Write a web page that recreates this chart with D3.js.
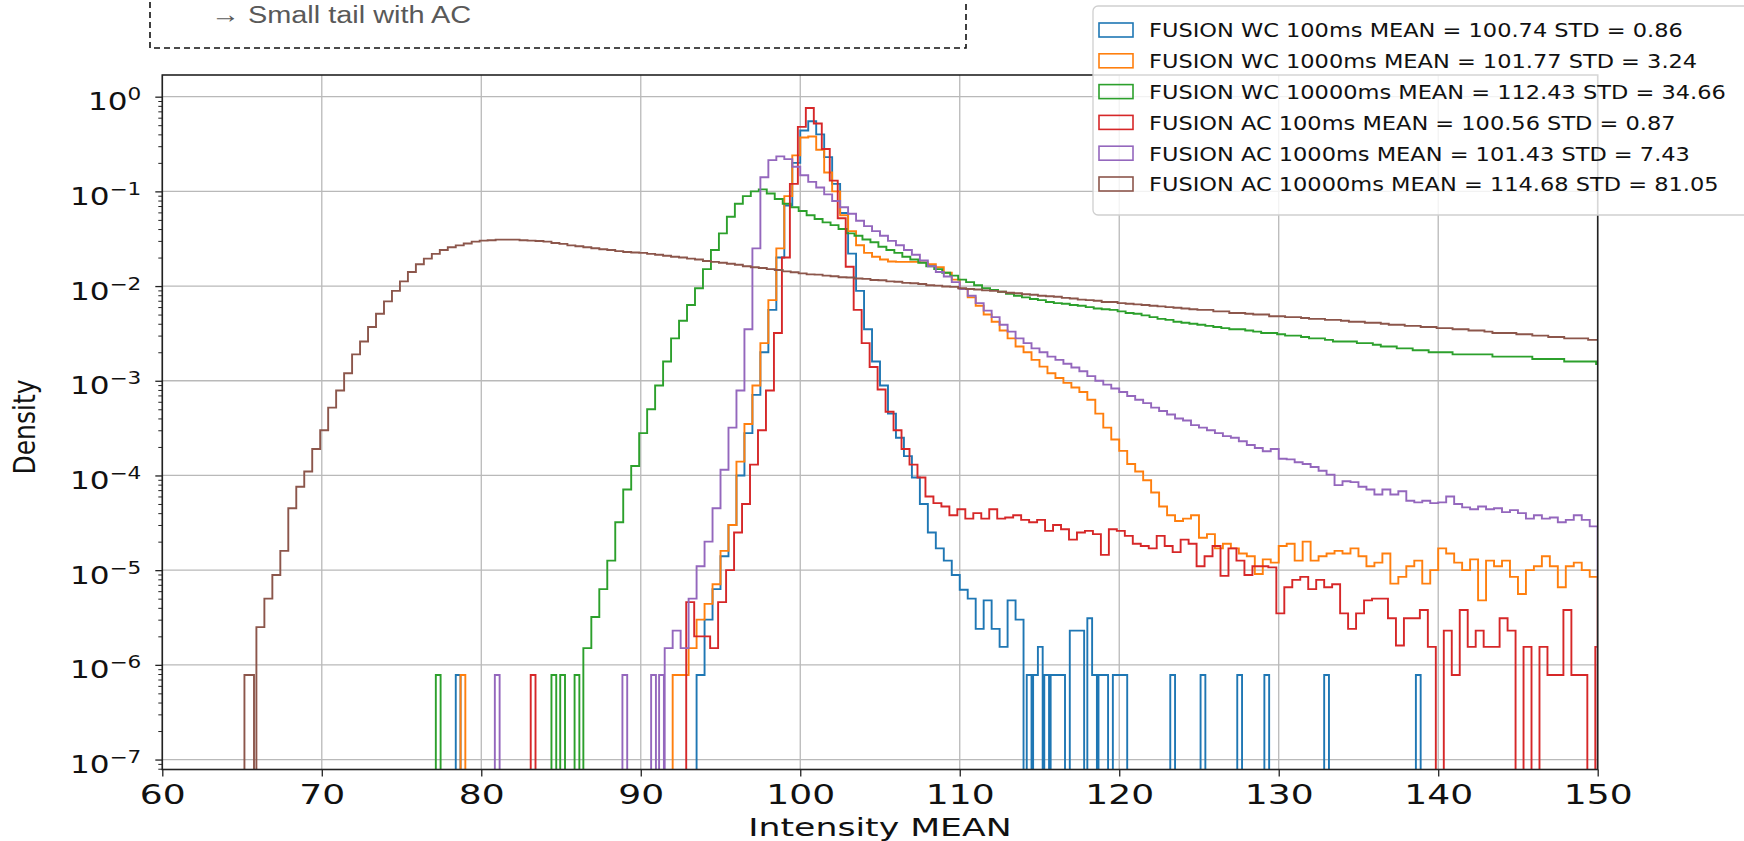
<!DOCTYPE html>
<html><head><meta charset="utf-8">
<script src="https://cdn.jsdelivr.net/npm/d3@7"></script>
<style>body{margin:0;background:#fff}svg{display:block}</style>
</head><body>
<svg id="chart" width="1744" height="841"></svg>
<script>
// ---------- data ----------
const xTicks = [60, 70, 80, 90, 100, 110, 120, 130, 140, 150];
const yTicks = [1e-7, 1e-6, 1e-5, 1e-4, 1e-3, 1e-2, 1e-1, 1];
const yTickExponents = ["\u22127", "\u22126", "\u22125", "\u22124", "\u22123", "\u22122", "\u22121", "0"];
const seriesLabels = [
  "FUSION WC 100ms MEAN = 100.74 STD = 0.86",
  "FUSION WC 1000ms MEAN = 101.77 STD = 3.24",
  "FUSION WC 10000ms MEAN = 112.43 STD = 34.66",
  "FUSION AC 100ms MEAN = 100.56 STD = 0.87",
  "FUSION AC 1000ms MEAN = 101.43 STD = 7.43",
  "FUSION AC 10000ms MEAN = 114.68 STD = 81.05"
];
const seriesColors = ["#1f77b4", "#ff7f0e", "#2ca02c", "#d62728", "#9467bd", "#8c564b"];
const binWidth = 0.5;     // width of the body bins
const spikeWidth = 0.3;   // width of isolated low-count bins
const noteText = "\u2192 Small tail with AC";
const xLabel = "Intensity MEAN";
const yLabel = "Density";

// FUSION WC 100ms
const wc100Start = 93.5;
const wc100Values = [7.8e-7, 3.0e-6, 6.3e-6, 1.4e-5, 3.0e-5, 1.0e-4, 2.8e-4, 7.1e-4, 2.0e-3, 5.6e-3,
  0.020, 0.071, 0.20, 0.44, 0.55, 0.40, 0.23, 0.12, 0.059, 0.022,
  8.9e-3, 3.5e-3, 1.6e-3, 8.9e-4, 4.5e-4, 2.5e-4, 1.6e-4, 9.5e-5, 5.0e-5, 2.5e-5,
  1.7e-5, 1.26e-5, 8.9e-6, 6.2e-6, 5.0e-6, 2.4e-6, 4.8e-6, 2.4e-6, 1.55e-6, 4.8e-6,
  3.0e-6];
const wc100Spikes = [[78.4, 7.8e-7], [114.2, 7.8e-7], [114.6, 7.8e-7], [114.9, 1.55e-6], [115.3, 7.8e-7],
  [115.7, 7.8e-7], [116.0, 7.8e-7], [116.3, 7.8e-7], [116.9, 2.3e-6], [117.2, 2.3e-6], [117.5, 2.3e-6],
  [118.0, 3.1e-6], [118.3, 7.8e-7], [118.7, 7.8e-7], [119.0, 7.8e-7], [119.6, 7.8e-7], [119.9, 7.8e-7],
  [120.2, 7.8e-7], [123.2, 7.8e-7], [125.1, 7.8e-7], [127.4, 7.8e-7], [129.1, 7.8e-7], [132.85, 7.8e-7],
  [138.6, 7.8e-7]];

// FUSION WC 1000ms
const wc1000Start = 92.0;
const wc1000Values = [7.8e-7, 7.8e-7, 1.5e-6, 3.0e-6, 4.4e-6, 7.1e-6, 1.6e-5, 3.0e-5, 1.4e-4, 3.5e-4,
  8.9e-4, 2.5e-3, 7.1e-3, 0.025, 0.089, 0.24, 0.37, 0.38, 0.275, 0.158,
  0.100, 0.056, 0.038, 0.027, 0.0224, 0.0204, 0.0191, 0.0182, 0.0180, 0.0180,
  0.0180, 0.0178, 0.0170, 0.0158, 0.0138, 0.0117, 0.0093, 0.0076, 0.0062, 0.0050,
  0.0042, 0.0034, 0.0028, 0.0023, 0.0020, 0.00166, 0.00141, 0.0012, 0.00107, 0.00095,
  0.00085, 0.00076, 0.00063, 0.00045, 0.00032, 0.00024, 0.000182, 0.000132, 0.00011, 8.9e-5,
  6.6e-5, 4.7e-5, 3.8e-5, 3.3e-5, 3.5e-5, 3.8e-5, 2.2e-5, 2.4e-5, 1.7e-5, 1.9e-5,
  1.7e-5, 1.5e-5, 1.4e-5, 9.1e-6, 1.3e-5, 1.2e-5, 1.8e-5, 1.9e-5, 1.26e-5, 2.0e-5,
  1.26e-5, 1.4e-5, 1.5e-5, 1.6e-5, 1.5e-5, 1.7e-5, 1.4e-5, 1.1e-5, 1.2e-5, 1.5e-5,
  7.2e-6, 8.5e-6, 1.1e-5, 1.26e-5, 7.2e-6, 1.0e-5, 1.7e-5, 1.5e-5, 1.2e-5, 1.0e-5,
  1.3e-5, 4.8e-6, 1.26e-5, 1.1e-5, 1.26e-5, 8.5e-6, 5.6e-6, 1.0e-5, 1.1e-5, 1.4e-5,
  1.1e-5, 6.6e-6, 1.1e-5, 1.2e-5, 1.0e-5, 8.5e-6];
const wc1000Spikes = [[78.7, 7.8e-7]];

// FUSION WC 10000ms
const wc10000Start = 86.4;
const wc10000Values = [1.5e-6, 3.2e-6, 6.3e-6, 1.26e-5, 3.2e-5, 7.1e-5, 1.26e-4, 2.8e-4, 5.0e-4, 8.9e-4,
  1.6e-3, 2.8e-3, 4.3e-3, 6.3e-3, 9.5e-3, 0.0151, 0.024, 0.036, 0.054, 0.074,
  0.089, 0.100, 0.105, 0.095, 0.083, 0.074, 0.068, 0.062, 0.056, 0.051,
  0.047, 0.044, 0.040, 0.036, 0.034, 0.031, 0.029, 0.026, 0.024, 0.0224,
  0.0204, 0.0191, 0.0176, 0.0162, 0.0151, 0.0138, 0.0129, 0.0117, 0.0110, 0.0102,
  0.0095, 0.0091, 0.0087, 0.0083, 0.0079, 0.0076, 0.0073, 0.0071, 0.0068, 0.0066,
  0.0065, 0.0063, 0.0062, 0.0060, 0.0058, 0.0057, 0.0056, 0.0054, 0.0052, 0.0051,
  0.0049, 0.0047, 0.0045, 0.0044, 0.0042, 0.0041, 0.0040, 0.0039, 0.0038, 0.0037,
  0.0036, 0.0035, 0.0035, 0.0034, 0.0033, 0.0032, 0.0032, 0.0031, 0.0030, 0.0030,
  0.0029, 0.0028, 0.0028, 0.0027, 0.0026, 0.0026, 0.0026, 0.0025, 0.0025, 0.0024,
  0.0023, 0.0023, 0.0022, 0.0022, 0.0021, 0.0021, 0.0020, 0.0020, 0.0020, 0.0019,
  0.0019, 0.0019, 0.0019, 0.0019, 0.0018, 0.0018, 0.0018, 0.0018, 0.0018, 0.0017,
  0.0017, 0.0017, 0.0017, 0.0016, 0.0016, 0.0016, 0.0016, 0.0015];
const wc10000Spikes = [[77.15, 7.8e-7], [84.4, 7.8e-7], [84.95, 7.8e-7], [85.85, 7.8e-7]];

// FUSION AC 100ms
const ac100Start = 92.85;
const ac100Values = [4.6e-6, 2.0e-6, 2.0e-6, 1.5e-6, 4.6e-6, 1.0e-5, 2.5e-5, 5.0e-5, 1.3e-4, 3.0e-4,
  7.9e-4, 3.2e-3, 0.020, 0.12, 0.48, 0.76, 0.52, 0.28, 0.13, 0.052,
  0.016, 5.6e-3, 2.5e-3, 1.4e-3, 8.1e-4, 4.7e-4, 3.0e-4, 1.9e-4, 1.3e-4, 9.5e-5,
  6.0e-5, 5.1e-5, 4.7e-5, 3.8e-5, 4.4e-5, 3.5e-5, 4.0e-5, 3.5e-5, 4.4e-5, 3.5e-5,
  3.6e-5, 3.8e-5, 3.4e-5, 3.2e-5, 3.4e-5, 2.6e-5, 3.0e-5, 2.7e-5, 2.1e-5, 2.5e-5,
  2.6e-5, 2.4e-5, 1.45e-5, 2.7e-5, 2.6e-5, 2.3e-5, 1.9e-5, 1.8e-5, 1.7e-5, 2.3e-5,
  1.8e-5, 1.55e-5, 2.1e-5, 1.9e-5, 1.1e-5, 1.4e-5, 1.8e-5, 8.7e-6, 1.7e-5, 1.26e-5,
  8.9e-6, 1.1e-5, 1.1e-5, 1.07e-5, 3.5e-6, 6.6e-6, 7.9e-6, 8.5e-6, 6.3e-6, 7.9e-6,
  6.6e-6, 7.1e-6, 3.5e-6, 2.4e-6, 3.5e-6, 4.8e-6, 5.0e-6, 5.0e-6, 3.1e-6, 1.6e-6,
  3.1e-6, 3.1e-6, 3.8e-6, 1.55e-6, 0, 2.3e-6, 7.8e-7, 3.8e-6, 1.55e-6, 2.3e-6,
  1.55e-6, 1.55e-6, 3.1e-6, 2.3e-6, 0, 1.55e-6, 0, 1.55e-6, 7.8e-7, 7.8e-7,
  3.8e-6, 7.8e-7, 7.8e-7, 0, 1.55e-6];
const ac100Spikes = [[83.1, 7.8e-7]];

// FUSION AC 1000ms
const ac1000Start = 91.5;
const ac1000Values = [1.5e-6, 2.3e-6, 1.5e-6, 5.0e-6, 1.1e-5, 2.0e-5, 4.5e-5, 1.15e-4, 3.2e-4, 7.9e-4,
  3.5e-3, 0.025, 0.141, 0.214, 0.234, 0.219, 0.182, 0.148, 0.126, 0.110,
  0.093, 0.079, 0.068, 0.058, 0.049, 0.043, 0.038, 0.034, 0.030, 0.027,
  0.024, 0.0214, 0.0186, 0.0162, 0.0141, 0.0126, 0.0110, 0.0093, 0.0079, 0.0066,
  0.0055, 0.0047, 0.0039, 0.0033, 0.0028, 0.0025, 0.0022, 0.0020, 0.0018, 0.00166,
  0.00151, 0.00138, 0.00126, 0.00112, 0.0010, 0.00091, 0.00083, 0.00076, 0.00069, 0.00063,
  0.00058, 0.00052, 0.00048, 0.00044, 0.00040, 0.00038, 0.00034, 0.00032, 0.00030, 0.00028,
  0.00026, 0.00025, 0.00023, 0.00021, 0.000195, 0.00018, 0.00019, 0.00015, 0.000148, 0.000138,
  0.000132, 0.000123, 0.000112, 0.000102, 7.9e-5, 8.7e-5, 8.5e-5, 7.6e-5, 7.1e-5, 6.3e-5,
  7.1e-5, 6.3e-5, 6.8e-5, 5.4e-5, 5.2e-5, 5.4e-5, 5.1e-5, 5.2e-5, 6.0e-5, 5.0e-5,
  4.6e-5, 4.4e-5, 4.7e-5, 4.4e-5, 4.5e-5, 4.1e-5, 4.3e-5, 4.0e-5, 3.5e-5, 3.8e-5,
  3.5e-5, 3.6e-5, 3.2e-5, 3.4e-5, 3.8e-5, 3.4e-5, 2.9e-5];
const ac1000Spikes = [[80.85, 7.8e-7], [88.85, 7.8e-7], [90.65, 7.8e-7], [91.15, 7.8e-7]];

// FUSION AC 10000ms
const ac10000Start = 65.9;
const ac10000Values = [2.5e-6, 5.0e-6, 8.9e-6, 1.6e-5, 4.5e-5, 7.6e-5, 1.1e-4, 1.9e-4, 3.0e-4, 5.2e-4,
  7.9e-4, 1.2e-3, 1.9e-3, 2.6e-3, 3.7e-3, 5.1e-3, 6.9e-3, 8.9e-3, 0.0112, 0.0141,
  0.0170, 0.0195, 0.0219, 0.0240, 0.0257, 0.0269, 0.0282, 0.0295, 0.0302, 0.0305,
  0.0309, 0.0309, 0.0309, 0.0305, 0.0302, 0.0299, 0.0295, 0.0285, 0.0279, 0.0269,
  0.0263, 0.0257, 0.0251, 0.0245, 0.0240, 0.0234, 0.0229, 0.0226, 0.0224, 0.0219,
  0.0214, 0.0209, 0.0204, 0.0200, 0.0195, 0.0191, 0.0184, 0.0180, 0.0176, 0.0172,
  0.0168, 0.0162, 0.0158, 0.0155, 0.0151, 0.0148, 0.0143, 0.0140, 0.0136, 0.0133,
  0.0132, 0.0129, 0.0127, 0.0124, 0.0123, 0.0120, 0.0119, 0.0116, 0.0115, 0.0112,
  0.0111, 0.0108, 0.0107, 0.0105, 0.0102, 0.0101, 0.0099, 0.0098, 0.0095, 0.0093,
  0.0092, 0.0090, 0.0089, 0.0087, 0.0085, 0.0084, 0.0082, 0.0081, 0.0079, 0.0078,
  0.0077, 0.0075, 0.0074, 0.0072, 0.0071, 0.0070, 0.0068, 0.0068, 0.0066, 0.0065,
  0.0064, 0.0063, 0.0062, 0.0061, 0.0060, 0.0059, 0.0058, 0.0057, 0.0056, 0.0056,
  0.0054, 0.0054, 0.0052, 0.0052, 0.0051, 0.0050, 0.0050, 0.0048, 0.0048, 0.0047,
  0.0047, 0.0046, 0.0045, 0.0045, 0.0044, 0.0044, 0.0043, 0.0042, 0.0042, 0.0041,
  0.0041, 0.0040, 0.0039, 0.0039, 0.0038, 0.0038, 0.0037, 0.0037, 0.0036, 0.0036,
  0.0035, 0.0035, 0.0034, 0.0034, 0.0033, 0.0032, 0.0032, 0.0032, 0.0031, 0.0031,
  0.0030, 0.0030, 0.0029, 0.0029, 0.0028, 0.0028, 0.0028, 0.0027, 0.0027];
const ac10000Spikes = [[65.15, 7.8e-7], [65.45, 7.8e-7]];

// ---------- drawing ----------
const series = [
  { start: wc100Start, values: wc100Values, spikes: wc100Spikes },
  { start: wc1000Start, values: wc1000Values, spikes: wc1000Spikes },
  { start: wc10000Start, values: wc10000Values, spikes: wc10000Spikes },
  { start: ac100Start, values: ac100Values, spikes: ac100Spikes },
  { start: ac1000Start, values: ac1000Values, spikes: ac1000Spikes },
  { start: ac10000Start, values: ac10000Values, spikes: ac10000Spikes }
].map((s, i) => ({ ...s, label: seriesLabels[i], color: seriesColors[i] }));

const svg = d3.select("#chart");
const P = { left: 162.3, right: 1597.7, top: 75, bottom: 769.5 };
const x = d3.scaleLinear().domain([60, 150]).range([P.left, P.right]);
const y = d3.scaleLog().domain([7.85e-8, 1.694]).range([P.bottom, P.top]);
const FONT = "'DejaVu Sans', sans-serif";

svg.append("rect").attr("width", 1744).attr("height", 841).attr("fill", "#fff");

// title note box (its top lies above the page)
svg.append("rect").attr("x", 150).attr("y", -20).attr("width", 816).attr("height", 68)
  .attr("fill", "none").attr("stroke", "#111").attr("stroke-width", 1.6).attr("stroke-dasharray", "6,4");
svg.append("text").attr("transform", "translate(211,23) scale(1.18,1)")
  .attr("font-family", "'Liberation Sans', Arial, sans-serif")
  .attr("font-size", 24.5).attr("fill", "#595959").text(noteText);

// grid
const grid = svg.append("g").attr("stroke", "#b9b9b9").attr("stroke-width", 1.3);
grid.selectAll("line.vx").data(xTicks).join("line")
  .attr("x1", d => x(d)).attr("x2", d => x(d)).attr("y1", P.top).attr("y2", P.bottom);
grid.selectAll("line.hy").data(yTicks).join("line")
  .attr("x1", P.left).attr("x2", P.right).attr("y1", d => y(d)).attr("y2", d => y(d));

// histograms
svg.append("clipPath").attr("id", "clip").append("rect")
  .attr("x", P.left).attr("y", P.top).attr("width", P.right - P.left).attr("height", P.bottom - P.top);

const floorVal = y.domain()[0] * 0.4;
function buildBins(s) {
  const bins = s.values.map((v, i) => ({ x0: s.start + i * binWidth, x1: s.start + (i + 1) * binWidth, v }));
  s.spikes.forEach(([sx, v]) => bins.push({ x0: sx, x1: sx + spikeWidth, v }));
  bins.sort((a, b) => a.x0 - b.x0);
  return bins;
}
function stepPoints(bins) {
  const pts = [];
  let prevEnd = null;
  bins.forEach(b => {
    const v = b.v > 0 ? b.v : floorVal;
    if (prevEnd === null || Math.abs(b.x0 - prevEnd) > 1e-6) {
      if (prevEnd !== null) pts.push([prevEnd, floorVal]);
      pts.push([b.x0, floorVal]);
    }
    pts.push([b.x0, v]);
    pts.push([b.x1, v]);
    prevEnd = b.x1;
  });
  pts.push([prevEnd, floorVal]);
  return pts;
}
const line = d3.line().x(d => x(d[0])).y(d => y(d[1]));
const data = svg.append("g").attr("clip-path", "url(#clip)");
series.forEach(s => {
  data.append("path").attr("d", line(stepPoints(buildBins(s))))
    .attr("fill", "none").attr("stroke", s.color).attr("stroke-width", 1.9)
    .attr("stroke-linejoin", "miter");
});

// axes
const gx = svg.append("g").attr("transform", `translate(0,${P.bottom})`)
  .call(d3.axisBottom(x).tickValues(xTicks).tickSize(7).tickFormat(d => d));
gx.select(".domain").remove();
gx.selectAll(".tick line").attr("stroke", "#222").attr("stroke-width", 1.3);
gx.selectAll(".tick text").attr("y", 35).attr("dy", null)
  .attr("font-family", FONT).attr("font-size", 26.5).attr("fill", "#111")
  .attr("transform", "scale(1.36,1)");

const minorTicks = [];
for (let e = -8; e <= 0; e++) for (let k = 2; k <= 9; k++) {
  const v = k * Math.pow(10, e);
  if (v > y.domain()[0] && v < y.domain()[1]) minorTicks.push(v);
}
const gym = svg.append("g").attr("transform", `translate(${P.left},0)`)
  .call(d3.axisLeft(y).tickValues(minorTicks).tickSize(4).tickFormat(""));
gym.select(".domain").remove();
gym.selectAll(".tick line").attr("stroke", "#222").attr("stroke-width", 1);

const gy = svg.append("g").attr("transform", `translate(${P.left},0)`)
  .call(d3.axisLeft(y).tickValues(yTicks).tickSize(7).tickFormat(""));
gy.select(".domain").remove();
gy.selectAll(".tick line").attr("stroke", "#222").attr("stroke-width", 1.3);
gy.selectAll(".tick text").each(function (d) {
  const t = d3.select(this);
  t.text(null).attr("x", 0).attr("y", 13).attr("dy", null)
    .attr("text-anchor", "end").attr("font-family", FONT).attr("font-size", 24.5).attr("fill", "#111")
    .attr("transform", "translate(-21,0) scale(1.27,1)");
  t.append("tspan").text("10");
  t.append("tspan").attr("font-size", 17).attr("dy", -10).text(yTickExponents[yTicks.indexOf(d)]);
});

// frame
svg.append("rect").attr("x", P.left).attr("y", P.top).attr("width", P.right - P.left)
  .attr("height", P.bottom - P.top).attr("fill", "none").attr("stroke", "#222").attr("stroke-width", 1.6);

// axis labels
svg.append("text").attr("transform", "translate(880,836) scale(1.36,1)")
  .attr("text-anchor", "middle").attr("font-family", FONT).attr("font-size", 25.5).attr("fill", "#111")
  .text(xLabel);
svg.append("text").attr("transform", "translate(35,427) scale(1.2,1) rotate(-90)")
  .attr("text-anchor", "middle").attr("font-family", FONT).attr("font-size", 25).attr("fill", "#111")
  .text(yLabel);

// legend
const lg = svg.append("g");
lg.append("rect").attr("x", 1093).attr("y", 6).attr("width", 680).attr("height", 209).attr("rx", 5)
  .attr("fill", "#fff").attr("fill-opacity", 0.82).attr("stroke", "#cfcfcf").attr("stroke-width", 1.3);
series.forEach((s, i) => {
  const cy = 30 + i * 30.8;
  lg.append("rect").attr("x", 1099).attr("y", cy - 7).attr("width", 34).attr("height", 14)
    .attr("fill", "none").attr("stroke", s.color).attr("stroke-width", 1.6);
  lg.append("text").attr("transform", `translate(1149,${cy + 7.3}) scale(1.125,1)`)
    .attr("font-family", FONT).attr("font-size", 20).attr("fill", "#111").text(s.label);
});
</script>
</body></html>
